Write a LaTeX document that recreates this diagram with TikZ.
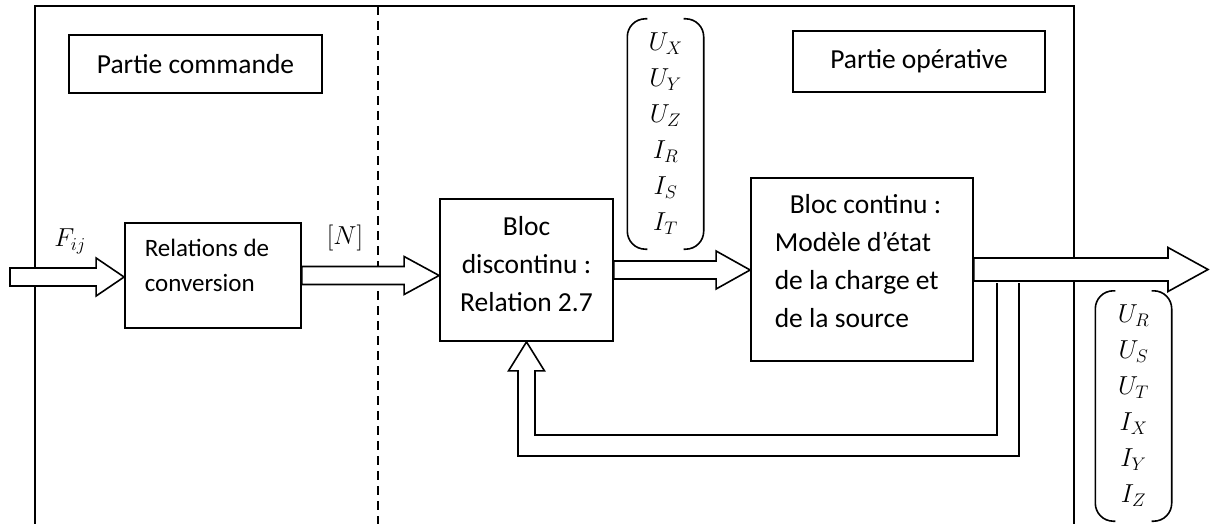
\RequirePackage{fix-cm}
\documentclass[tikz,border=0pt]{standalone}
\usepackage{amsmath}
\usepackage{fontspec}
\setmainfont{Carlito}
\usetikzlibrary{calc}

% hollow horizontal block arrow: from, to, shaft half width, head half width, head length
\newcommand{\blockarrow}[5]{%
  \draw[blockarr] let \p1=(#1), \p2=(#2) in
    (\x1,\y1+#3) -- (\x2-#5,\y1+#3) -- (\x2-#5,\y1+#4) -- (\x2,\y1)
    -- (\x2-#5,\y1-#4) -- (\x2-#5,\y1-#3) -- (\x1,\y1-#3) -- cycle;}

% round brackets around a vector node
\newcommand{\vecparens}[1]{%
  \draw[paren] ($(#1.north west)+(20,0)$) -- (#1.north west) -- (#1.south west) -- ($(#1.south west)+(20,0)$);
  \draw[paren] ($(#1.north east)+(-20,0)$) -- (#1.north east) -- (#1.south east) -- ($(#1.south east)+(-20,0)$);}

\begin{document}
\begin{tikzpicture}[x=1pt, y=-1pt,
  txt/.style={font=\fontsize{27.5}{38}\selectfont},
  box/.style={draw, line width=1.8pt, inner sep=0pt},
  boxtxt/.style={txt, align=#1, inner sep=0pt},
  part/.style={box, line width=2pt, font=\fontsize{27.5}{33}\selectfont},
  vec/.style={inner sep=0pt, minimum width=76pt, minimum height=230pt,
    align=center, font=\fontsize{26}{36}\selectfont},
  lbl/.style={font=\fontsize{26}{30}\selectfont},
  blockarr/.style={draw, line width=1.6pt, fill=white, line join=miter},
  frame/.style={line width=2.5pt},
  sep/.style={line width=2pt, dash pattern=on 9pt off 6pt},
  paren/.style={line width=1.6pt, rounded corners=18pt},
]
\useasboundingbox (0,0) rectangle (1211,524);

% Frame and separation
\draw[frame] (35,524) -- (35,6) -- (1074,6) -- (1074,524);
\draw[sep] (378,6) -- (378,524);

% === Titles ===
\node[part, minimum width=253pt, minimum height=58pt] (cmd) at (195.5,64) {Partie commande};
\node[part, minimum width=252pt, minimum height=61pt] (ope) at (919,61.5) {Partie opérative};

% === Blocks ===
\node[box, minimum width=176pt, minimum height=105pt,
  label={[boxtxt=left, font=\fontsize{25}{35}\selectfont, yshift=10pt, xshift=-6pt]center:Relations de\\conversion}]
  (conv) at (213,275.5) {};
\node[box, minimum width=173pt, minimum height=142pt,
  label={[boxtxt=center, yshift=6pt]center:Bloc\\discontinu :\\Relation 2.7}]
  (disc) at (526.5,270) {};
\node[box, minimum width=222pt, minimum height=183pt,
  label={[boxtxt=left, yshift=8pt, xshift=-4pt]center:\hspace{15pt}Bloc continu :\\Modèle d’état\\de la charge et\\de la source}]
  (contb) at (862,269.5) {};

% === Arrows ===
\coordinate (in) at (10,277);
\coordinate (out) at (1208,271.5);
\blockarrow{in}{conv.west}{9pt}{19pt}{28pt}
\blockarrow{conv.east}{disc.west}{9pt}{19pt}{35pt}
\blockarrow{disc.east}{contb.west}{9pt}{19pt}{34pt}
\blockarrow{contb.east}{out}{11.5pt}{22pt}{40pt}

% feedback
\coordinate (fbin) at (997,283);
\coordinate (fbout) at (1019,283);
\draw[blockarr] (fbin) -- ++(0,152) -| ($(disc.south)+(8.5,29)$) -- ++(9.5,0) -- (disc.south)
  -- ++(-18,29) -- ++(9.5,0) |- ($(fbout)+(0,173)$) -- (fbout);

% === Labels ===
\node[lbl] (fij) at (70,241) {$F_{ij}$};
\node[lbl] (nlab) at (345,238) {$[N]$};

\node[vec] (vin) at (665.5,134) {$U_X$\\$U_Y$\\$U_Z$\\$I_R$\\$I_S$\\$I_T$};
\vecparens{vin}
\node[vec] (vout) at (1133.5,406) {$U_R$\\$U_S$\\$U_T$\\$I_X$\\$I_Y$\\$I_Z$};
\vecparens{vout}

\end{tikzpicture}
\end{document}
